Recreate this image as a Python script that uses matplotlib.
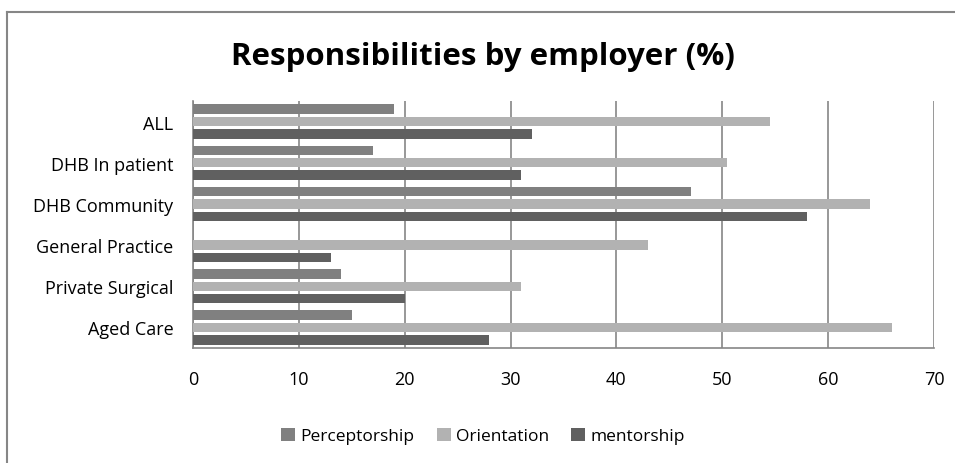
import matplotlib.pyplot as plt
from matplotlib.lines import Line2D
import numpy as np

plt.rcParams['font.family'] = ['Open Sans', 'DejaVu Sans']

# Employers, listed top to bottom
employers = ['ALL', 'DHB In patient', 'DHB Community', 'General Practice',
             'Private Surgical', 'Aged Care']

perceptorship = [19, 17, 47, 0, 14, 15]
orientation = [54.5, 50.4, 64, 43, 31, 66]
mentorship = [32, 31, 58, 13, 20, 28]

series = [('Perceptorship', perceptorship, '#808080'),
          ('Orientation', orientation, '#b2b2b2'),
          ('mentorship', mentorship, '#606060')]

fig = plt.figure(figsize=(9.55, 4.64), dpi=100)
ax = fig.add_axes([193 / 955, 1 - 349 / 464, 741 / 955, 247 / 464])

y = np.arange(len(employers))
bar_h = 0.23
step = 0.30
for i, (name, vals, col) in enumerate(series):
    ax.barh(y + (i - 1) * step, vals, height=bar_h, color=col, label=name, zorder=3)

ax.set_xlim(0, 70)
ax.set_ylim(len(employers) - 0.5, -0.5)
ax.set_xticks(range(0, 71, 10))
ax.set_yticks(y)
ax.set_yticklabels(employers)
ax.tick_params(axis='both', length=0, labelsize=13, colors='black')
ax.tick_params(axis='x', pad=16)
ax.tick_params(axis='y', pad=14)
ax.xaxis.grid(True, color='#868686', linewidth=1.2, zorder=0)

for s in ['top', 'right']:
    ax.spines[s].set_visible(False)
for s in ['left', 'bottom']:
    ax.spines[s].set_color('#868686')
    ax.spines[s].set_linewidth(1.2)

fig.text(483 / 955, 1 - 57 / 464, 'Responsibilities by employer (%)',
         ha='center', va='center', fontsize=22.5, fontweight='bold')

fig.legend(loc='center', bbox_to_anchor=(483 / 955, 1 - 437 / 464), ncol=3,
           frameon=False, fontsize=12.5, handlelength=0.8, handleheight=0.8,
           handletextpad=0.3, columnspacing=1.3)

# chart frame: only the top and left edges fall inside the image
fig.add_artist(Line2D([7 / 955, 1], [1 - 13 / 464, 1 - 13 / 464],
                      transform=fig.transFigure, color='#868686', linewidth=1.5))
fig.add_artist(Line2D([7 / 955, 7 / 955], [0, 1 - 13 / 464],
                      transform=fig.transFigure, color='#868686', linewidth=1.5))

fig.savefig('out.png', dpi=100)
